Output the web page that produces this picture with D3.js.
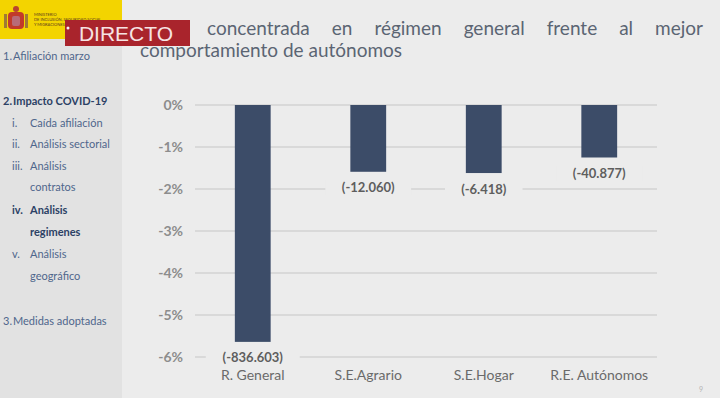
<!DOCTYPE html>
<html>
<head>
<meta charset="utf-8">
<script src="https://cdn.jsdelivr.net/npm/d3@7"></script>
<style>
  html, body { margin: 0; padding: 0; background: #ececec; }
  svg { display: block; font-family: Lato, "Open Sans", sans-serif; }
</style>
</head>
<body>
<svg id="chart" width="720" height="398"></svg>
<script>
// chart data
const categories = ['R. General', 'S.E.Agrario', 'S.E.Hogar', 'R.E. Autónomos'];
const values = [-5.64, -1.59, -1.62, -1.25];
const valueLabels = ['(-836.603)', '(-12.060)', '(-6.418)', '(-40.877)'];
const yTicks = [0, -1, -2, -3, -4, -5, -6];

// sidebar menu
const menuItems = [
  { num: '1.', text: 'Afiliación marzo', y: 60, bold: false, indent: false },
  { num: '2.', text: 'Impacto COVID-19', y: 105, bold: true, indent: false },
  { num: 'i.', text: 'Caída afiliación', y: 127, bold: false, indent: true },
  { num: 'ii.', text: 'Análisis sectorial', y: 148, bold: false, indent: true },
  { num: 'iii.', text: 'Análisis', y: 170, bold: false, indent: true },
  { num: '', text: 'contratos', y: 191, bold: false, indent: true },
  { num: 'iv.', text: 'Análisis', y: 214, bold: true, indent: true },
  { num: '', text: 'regimenes', y: 236, bold: true, indent: true },
  { num: 'v.', text: 'Análisis', y: 258, bold: false, indent: true },
  { num: '', text: 'geográfico', y: 280, bold: false, indent: true },
  { num: '3.', text: 'Medidas adoptadas', y: 325, bold: false, indent: false }
];

// first word of the title is hidden behind the banner in the picture
const titleLine1 = ['concentrada', 'en', 'régimen', 'general', 'frente', 'al', 'mejor'];
const titleLine2 = 'comportamiento de autónomos';

const svg = d3.select('#chart');

// backgrounds
svg.append('rect').attr('width', 720).attr('height', 398).attr('fill', '#ececec');
svg.append('rect').attr('width', 122).attr('height', 398).attr('fill', '#e2e2e2');
svg.append('rect').attr('width', 122).attr('height', 39).attr('fill', '#f3d400');

// little crest in the logo
const crest = svg.append('g').attr('transform', 'translate(16,20)');
crest.append('rect').attr('x', -8).attr('y', -8).attr('width', 16).attr('height', 17).attr('rx', 4).attr('fill', '#c23a2a');
crest.append('rect').attr('x', -4).attr('y', -4).attr('width', 8).attr('height', 10).attr('rx', 2).attr('fill', '#b86a78');
crest.append('circle').attr('cx', 0).attr('cy', -11).attr('r', 3).attr('fill', '#b8452f');
crest.append('rect').attr('x', -12).attr('y', -6).attr('width', 3).attr('height', 14).attr('fill', '#a07a36');
crest.append('rect').attr('x', 9).attr('y', -6).attr('width', 3).attr('height', 14).attr('fill', '#a07a36');
['MINISTERIO', 'DE INCLUSIÓN, SEGURIDAD SOCIAL', 'Y MIGRACIONES'].forEach((t, i) => {
  svg.append('text').attr('x', 34).attr('y', 16 + i * 5)
    .attr('font-size', 4).attr('fill', '#5a3b1e').text(t);
});

// sidebar menu
const menu = svg.append('g');
menuItems.forEach(m => {
  const numX = m.indent ? 12 : 3;
  const txtX = m.indent ? 30 : 13;
  const col = m.bold ? '#2c4165' : '#4f668c';
  const w = m.bold ? 700 : 400;
  if (m.num) {
    menu.append('text').attr('x', numX).attr('y', m.y).attr('font-size', 11)
      .attr('font-weight', w).attr('fill', col).text(m.num);
  }
  menu.append('text').attr('x', txtX).attr('y', m.y).attr('font-size', 11)
    .attr('font-weight', w).attr('fill', col).text(m.text);
});

// title, first line justified
const title = svg.append('g').attr('fill', '#5b6573').attr('font-size', 19);
const words = title.selectAll('text.w').data(titleLine1).enter().append('text')
  .attr('class', 'w').attr('y', 35).text(d => d);
const widths = [];
words.each(function () { widths.push(this.getComputedTextLength()); });
const lineStart = 207, lineEnd = 703;
const gap = (lineEnd - lineStart - d3.sum(widths)) / (titleLine1.length - 1);
let cx = lineStart;
words.attr('x', (d, i) => { const x = cx; cx += widths[i] + gap; return x; });
title.append('text').attr('x', 140).attr('y', 57).text(titleLine2);

// DIRECTO banner
svg.append('rect').attr('x', 65).attr('y', 20).attr('width', 125).attr('height', 26)
  .attr('fill', '#a9242c');
svg.append('circle').attr('cx', 68).attr('cy', 28).attr('r', 1.5).attr('fill', '#f4f4f4');
svg.append('text').attr('x', 126).attr('y', 41).attr('text-anchor', 'middle')
  .attr('font-family', '"Liberation Sans", Arial, sans-serif')
  .attr('font-size', 21).attr('fill', '#f6e3e3').text('DIRECTO');

// plot
const x = d3.scaleBand()
  .domain(categories)
  .range([195, 657])
  .paddingInner(0.69)
  .paddingOuter(0.345);

const y = d3.scaleLinear()
  .domain([-6, 0])
  .range([357, 105]);

const plot = svg.append('g');

// gridlines
plot.append('g')
  .selectAll('line')
  .data(yTicks)
  .enter()
  .append('line')
  .attr('x1', 195)
  .attr('x2', 657)
  .attr('y1', d => y(d))
  .attr('y2', d => y(d))
  .attr('stroke', '#d3d3d3')
  .attr('stroke-width', 1.3);

// y axis labels
const yAxis = plot.append('g')
  .attr('transform', 'translate(183,0)')
  .call(d3.axisLeft(y).tickValues(yTicks).tickSize(0).tickPadding(0).tickFormat(d => d + '%'));
yAxis.select('.domain').remove();
yAxis.selectAll('text')
  .attr('font-family', 'Lato, "Open Sans", sans-serif')
  .attr('font-size', 14)
  .attr('font-weight', 700)
  .attr('fill', '#8d8d8d');

// bars
plot.append('g')
  .selectAll('rect')
  .data(values)
  .enter()
  .append('rect')
  .attr('x', (d, i) => x(categories[i]))
  .attr('y', y(0))
  .attr('width', x.bandwidth())
  .attr('height', d => y(d) - y(0))
  .attr('fill', '#3c4c68');

// value labels with a background that breaks the gridlines
const lbl = plot.append('g')
  .selectAll('g')
  .data(values)
  .enter()
  .append('g')
  .attr('transform', (d, i) => 'translate(' + (x(categories[i]) + x.bandwidth() / 2) + ',' + (y(d) + 16) + ')');
lbl.append('rect')
  .attr('x', (d, i) => -(valueLabels[i].length * 4.1 + 6))
  .attr('y', -8)
  .attr('width', (d, i) => 2 * (valueLabels[i].length * 4.1 + 6))
  .attr('height', 16)
  .attr('fill', '#ececec');
lbl.append('text')
  .attr('text-anchor', 'middle')
  .attr('dy', '0.35em')
  .attr('font-size', 13)
  .attr('font-weight', 700)
  .attr('fill', '#5e5e5e')
  .text((d, i) => valueLabels[i]);

// category labels
const xAxis = plot.append('g')
  .attr('transform', 'translate(0,370)')
  .call(d3.axisBottom(x).tickSize(0).tickPadding(0));
xAxis.select('.domain').remove();
xAxis.selectAll('text')
  .attr('font-family', 'Lato, "Open Sans", sans-serif')
  .attr('font-size', 14)
  .attr('fill', '#6a6a6a');

// page number
svg.append('text').attr('x', 699).attr('y', 392).attr('font-size', 7)
  .attr('fill', '#b5b5b5').text('9');
</script>
</body>
</html>
